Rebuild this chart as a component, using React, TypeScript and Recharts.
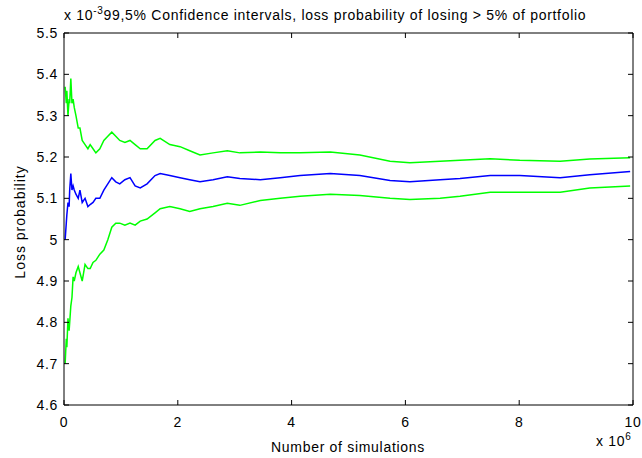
import React from "react";
import { LineChart, Line, XAxis, YAxis } from "recharts";

// simulations, in units of 10^6
const SIMS = [
  0.02, 0.04, 0.05, 0.07, 0.09, 0.1, 0.12, 0.14, 0.16, 0.18, 0.21, 0.25, 0.28,
  0.32, 0.37, 0.42, 0.46, 0.51, 0.56, 0.63, 0.7, 0.77, 0.84, 0.91, 0.98, 1.07,
  1.16, 1.25, 1.34, 1.46, 1.6, 1.69, 1.86, 2.04, 2.21, 2.39, 2.62, 2.87, 3.09,
  3.45, 3.8, 4.15, 4.68, 5.2, 5.73, 6.08, 6.61, 6.96, 7.49, 8.01, 8.72, 9.24,
  9.95,
];

// loss probability, in units of 10^-3
const UPPER = [
  5.37, 5.33, 5.36, 5.3, 5.34, 5.33, 5.39, 5.33, 5.34, 5.32, 5.3, 5.27, 5.27,
  5.24, 5.23, 5.22, 5.23, 5.22, 5.21, 5.22, 5.24, 5.25, 5.26, 5.25, 5.24,
  5.235, 5.24, 5.23, 5.22, 5.22, 5.24, 5.245, 5.23, 5.225, 5.215, 5.205, 5.21,
  5.215, 5.21, 5.212, 5.21, 5.21, 5.212, 5.205, 5.19, 5.186, 5.19, 5.192,
  5.196, 5.192, 5.19, 5.195, 5.198,
];

const MEAN = [
  5.0, 5.04, 5.06, 5.09, 5.08, 5.12, 5.16, 5.12, 5.13, 5.12, 5.11, 5.1, 5.12,
  5.09, 5.1, 5.08, 5.085, 5.09, 5.1, 5.1, 5.12, 5.135, 5.15, 5.14, 5.135,
  5.145, 5.15, 5.13, 5.125, 5.135, 5.155, 5.16, 5.155, 5.15, 5.145, 5.14,
  5.145, 5.152, 5.148, 5.145, 5.15, 5.155, 5.16, 5.155, 5.143, 5.14, 5.145,
  5.148, 5.155, 5.155, 5.15, 5.157, 5.165,
];

const LOWER = [
  4.7, 4.76, 4.74, 4.81, 4.78, 4.8, 4.84, 4.86, 4.91, 4.9, 4.92, 4.935, 4.92,
  4.9, 4.94, 4.93, 4.93, 4.945, 4.95, 4.965, 4.975, 5.0, 5.03, 5.04, 5.04,
  5.035, 5.04, 5.035, 5.045, 5.05, 5.065, 5.075, 5.08, 5.075, 5.068, 5.075,
  5.08, 5.088, 5.083, 5.095, 5.1, 5.105, 5.11, 5.107, 5.1, 5.097, 5.1, 5.105,
  5.115, 5.115, 5.115, 5.125, 5.13,
];

const X_TICKS = [0, 2, 4, 6, 8, 10];
const Y_TICKS = [4.6, 4.7, 4.8, 4.9, 5.0, 5.1, 5.2, 5.3, 5.4, 5.5];

const data = SIMS.map((s, i) => ({
  sims: s,
  upper: UPPER[i],
  mean: MEAN[i],
  lower: LOWER[i],
}));

const FONT = "'Liberation Sans', Arial, sans-serif";
const FS = 14;
const LS = 0.7;
const AXIS = "#000";

const fmtY = (v: number) => String(Math.round(v * 10) / 10);

// MATLAB-style ticks, pointing into the plot box
const LeftTick = ({ x, y, payload }: any) => (
  <g>
    <line x1={x} x2={x + 5} y1={y} y2={y} stroke={AXIS} />
    <text x={x - 6} y={y} dy={5} textAnchor="end" fontSize={FS} letterSpacing={LS} fill="#000" fontFamily={FONT}>
      {fmtY(payload.value)}
    </text>
  </g>
);

const RightTick = ({ x, y }: any) => (
  <line x1={x - 5} x2={x} y1={y} y2={y} stroke={AXIS} />
);

const BottomTick = ({ x, y, payload }: any) => (
  <g>
    <line x1={x} x2={x} y1={y} y2={y - 5} stroke={AXIS} />
    <text x={x} y={y} dy={22} textAnchor="middle" fontSize={FS} letterSpacing={LS} fill="#000" fontFamily={FONT}>
      {payload.value}
    </text>
  </g>
);

const TopTick = ({ x, y }: any) => (
  <line x1={x} x2={x} y1={y} y2={y + 5} stroke={AXIS} />
);

export default function App() {
  return (
    <div
      style={{
        position: "absolute",
        left: 0,
        top: 0,
        width: 642,
        height: 458,
        background: "#fff",
        fontFamily: FONT,
      }}
    >
      <LineChart
        width={642}
        height={458}
        data={data}
        margin={{ top: 32, right: 8, bottom: 0, left: 0 }}
      >
        <XAxis
          xAxisId="bottom"
          dataKey="sims"
          type="number"
          domain={[0, 10]}
          ticks={X_TICKS}
          height={53}
          tickSize={0}
          tickMargin={0}
          tickLine={false}
          tick={<BottomTick />}
          axisLine={{ stroke: AXIS }}
          label={{
            content: () => (
              <text x={348} y={452} textAnchor="middle" fontSize={FS} letterSpacing={LS} fill="#000" fontFamily={FONT}>
                Number of simulations
              </text>
            ),
          }}
        />
        <XAxis
          xAxisId="top"
          orientation="top"
          dataKey="sims"
          type="number"
          domain={[0, 10]}
          ticks={X_TICKS}
          height={1}
          tickSize={0}
          tickMargin={0}
          tickLine={false}
          tick={<TopTick />}
          axisLine={{ stroke: AXIS }}
        />
        <YAxis
          yAxisId="left"
          type="number"
          domain={[4.6, 5.5]}
          ticks={Y_TICKS}
          width={64}
          tickSize={0}
          tickMargin={0}
          tickLine={false}
          tick={<LeftTick />}
          axisLine={{ stroke: AXIS }}
          label={{
            content: () => (
              <text
                x={25}
                y={222}
                transform="rotate(-90 25 222)"
                textAnchor="middle"
                fontSize={FS}
                letterSpacing={1}
                fill="#000"
                fontFamily={FONT}
              >
                Loss probability
              </text>
            ),
          }}
        />
        <YAxis
          yAxisId="right"
          orientation="right"
          type="number"
          domain={[4.6, 5.5]}
          ticks={Y_TICKS}
          width={1}
          tickSize={0}
          tickMargin={0}
          tickLine={false}
          tick={<RightTick />}
          axisLine={{ stroke: AXIS }}
        />
        {/* upper bound is plotted on the top/right axes (same domains) so the box axes render */}
        <Line
          xAxisId="top"
          yAxisId="right"
          dataKey="upper"
          type="linear"
          stroke="#00ff00"
          strokeWidth={1.5}
          dot={false}
          isAnimationActive={false}
        />
        <Line
          xAxisId="bottom"
          yAxisId="left"
          dataKey="mean"
          type="linear"
          stroke="#0000ff"
          strokeWidth={1.5}
          dot={false}
          isAnimationActive={false}
        />
        <Line
          xAxisId="bottom"
          yAxisId="left"
          dataKey="lower"
          type="linear"
          stroke="#00ff00"
          strokeWidth={1.5}
          dot={false}
          isAnimationActive={false}
        />
      </LineChart>
      <div style={{ position: "absolute", left: 64, top: 5, fontSize: FS, letterSpacing: LS, whiteSpace: "nowrap", color: "#000" }}>
        x 10<sup style={{ fontSize: 10, verticalAlign: 6 }}>-3</sup>
        <span>99,5% Confidence intervals, loss probability of losing &gt; 5% of portfolio</span>
      </div>
      <div style={{ position: "absolute", left: 596, top: 431, fontSize: FS, letterSpacing: LS, whiteSpace: "nowrap", color: "#000" }}>
        x 10<sup style={{ fontSize: 10, verticalAlign: 6 }}>6</sup>
      </div>
    </div>
  );
}
